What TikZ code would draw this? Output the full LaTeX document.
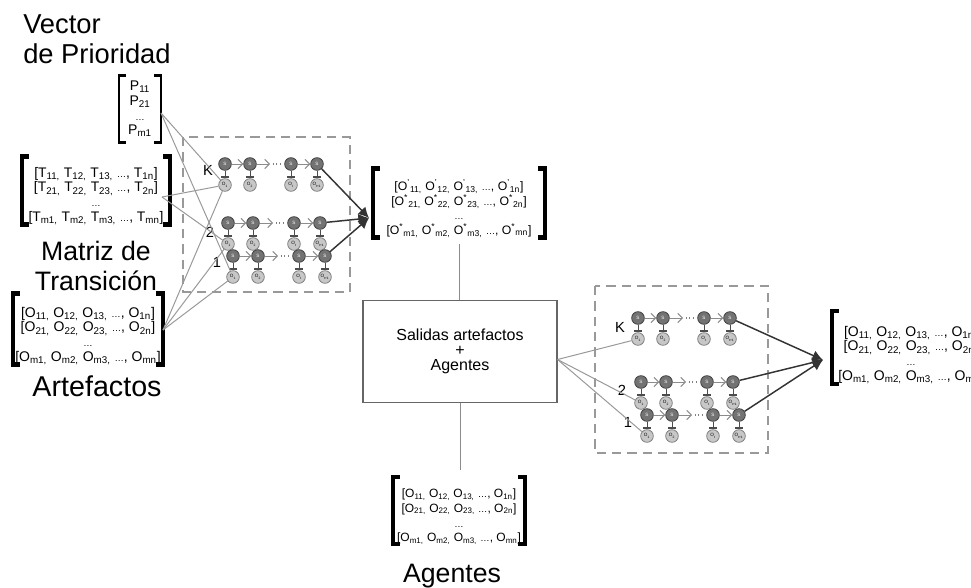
\documentclass[tikz,border=0pt]{standalone}
\usepackage{fontspec}
\setmainfont{Liberation Sans}
\usetikzlibrary{arrows.meta,positioning,calc}
\newcommand{\ix}[1]{\textsubscript{#1}}
\newcommand{\dts}{{\scriptsize\ldots},}
\newcommand{\mrow}[2]{{[}#1\ix{#21,} #1\ix{#22,} #1\ix{#23,} \dts{} #1\ix{#2n}]}
\newcommand{\mtx}[4]{\parbox[c][#2][#3]{#1}{\centering #4}}
\newcommand{\mbrackets}[2]{%
  \draw[line width=#2] ([xshift=5pt]#1.north west) -- (#1.north west) -- (#1.south west) -- ([xshift=5pt]#1.south west);
  \draw[line width=#2] ([xshift=-5pt]#1.north east) -- (#1.north east) -- (#1.south east) -- ([xshift=-5pt]#1.south east);}
\newcommand{\hmmrow}[3]{%
  \foreach \i/\dx/\ol in {1/0/1,2/25/2,3/66/t,4/92/t+1}{
    \node[st] (#1s\i) at (#2+\dx,#3) {S};
    \node[ob] (#1o\i) at (#2+\dx,#3+21) {O\ix{\ol}};
    \draw[emit] (#1s\i) -- (#1o\i);
  }
  \draw[trans] (#1s1) -- (#1s2);
  \draw[trans] (#1s2) -- ++(20,0) coordinate (#1m);
  \draw[dotline] ([xshift=2pt]#1m) -- ([xshift=-2pt]#1s3.west);
  \draw[trans] (#1s3) -- (#1s4);
}
\tikzset{
  title/.style={font=\fontsize{20}{22.5}\selectfont,align=center,inner sep=0pt},
  mat/.style={inner sep=0pt,outer sep=0pt,font=\fontsize{10}{11}\selectfont},
  salbox/.style={draw=black!60,line width=0.8pt,align=center,font=\fontsize{12}{11.5}\selectfont,minimum width=145.5pt,minimum height=77pt},
  st/.style={circle,draw=black!75,fill=black!55,line width=0.6pt,minimum size=9.5pt,inner sep=0pt,font=\fontsize{3.5}{4}\selectfont,text=white},
  ob/.style={circle,draw=black!50,fill=black!22,line width=0.6pt,minimum size=9.5pt,inner sep=0pt,font=\fontsize{3.5}{4}\selectfont},
  trans/.style={draw=black!45,line width=0.7pt,-{Straight Barb[length=3.5pt,width=7pt]}},
  emit/.style={draw=black!70,line width=0.6pt,-{Bar[width=6pt,line width=1.6pt]}},
  dotline/.style={draw=black!50,line width=0.8pt,dotted},
  feed/.style={draw=black!40,line width=0.75pt},
  outl/.style={draw=black!80,line width=1.1pt,-{Latex[length=8pt,width=8pt]}},
  link/.style={draw=black!45,line width=0.75pt},
  hmmbox/.style={draw=black!40,line width=1.4pt,dash pattern=on 7pt off 4.5pt},
  lbl/.style={font=\fontsize{11}{12}\selectfont,inner sep=0pt},
}
\begin{document}
\begin{tikzpicture}[x=0.75pt,y=-0.75pt]
\useasboundingbox (0,0) rectangle (971,588);
\clip (0,0) rectangle (971,588);
% titles
\node[title,anchor=north west,align=left,font=\fontsize{20.5}{22.5}\selectfont] (tvec) at (23,14) {Vector\\de Prioridad};
\node[title,anchor=north] (tmat) at (96,241) {Matriz de\\Transición};
\node[title,anchor=north,font=\fontsize{21.5}{23}\selectfont] (tart) at (97,375) {Artefactos};
\node[title,anchor=north] (tage) at (452,564) {Agentes};
% input matrices
\node[mat,font=\fontsize{10.5}{11}\selectfont] (pvec) at (140,109) {\mtx{31.5pt}{50pt}{c}{P\ix{11}\\P\ix{21}\\{\scriptsize\ldots}\\P\ix{m1}}};
\node[mat,font=\fontsize{10.4}{11}\selectfont] (tmx) at (96,190.5) {\mtx{111pt}{48.75pt}{b}{\mrow{T}{1}\\\mrow{T}{2}\\{\scriptsize\ldots}\\\mrow{T}{m}}};
\node[mat,font=\fontsize{10.5}{11}\selectfont] (amx) at (88,329) {\mtx{112.5pt}{51pt}{b}{\mrow{O}{1}\\\mrow{O}{2}\\{\scriptsize\ldots}\\\mrow{O}{m}}};
\mbrackets{pvec}{2pt}
\mbrackets{tmx}{3.6pt}
\mbrackets{amx}{3.6pt}
\coordinate (pin) at (161,113);
\coordinate (tin) at (162,197);
\coordinate (ain) at (163,330);
% first group of models
\draw[hmmbox] (183,137) rectangle (350,292);
\hmmrow{lk}{225}{164}
\hmmrow{l2}{228}{223}
\hmmrow{l1}{233}{256}
\node[lbl] (lkk) at (208,170) {K};
\node[lbl] (lk2) at (210,232) {2};
\node[lbl] (lk1) at (217,262) {1};
\draw[feed] (pin) -- (lko1);
\draw[feed] (pin) -- (l1o1);
\draw[feed] (tin) -- (lko1);
\draw[feed] (tin) -- (l2o1);
\draw[feed] (ain) -- (lko1);
\draw[feed] (ain) -- (l2o1);
\draw[feed] (ain) -- (l1o1);
% outputs
\node[mat,font=\fontsize{9.2}{11}\selectfont] (ostar) at (459,203) {\mtx{129pt}{49.5pt}{b}{\mrow{O\textsuperscript{'}}{1}\\\mrow{O\textsuperscript{*}}{2}\\{\scriptsize\ldots}\\\mrow{O\textsuperscript{*}}{m}}};
\mbrackets{ostar}{3.6pt}
\coordinate (ltip) at (369,218);
\draw[outl] (lks4) -- (ltip);
\draw[outl] (l2s4) -- (ltip);
\draw[outl] (l1s4) -- (ltip);
\node[salbox] (sal) at (460,351.5) {Salidas artefactos\\+\\Agentes};
\draw[link,shorten <=5pt] (ostar.south) -- (ostar.south |- sal.north);
\node[mat,font=\fontsize{9}{11}\selectfont] (agm) at (459,510.5) {\mtx{99pt}{48.75pt}{b}{\mrow{O}{1}\\\mrow{O}{2}\\{\scriptsize\ldots}\\\mrow{O}{m}}};
\mbrackets{agm}{3pt}
\draw[link,shorten >=5pt] (sal.south) -- (sal.south |- agm.north);
% second group of models
\draw[hmmbox] (595,286) rectangle (768,453);
\hmmrow{rk}{638}{318}
\hmmrow{r2}{641}{382}
\hmmrow{r1}{647}{415}
\node[lbl] (rkk) at (620,327) {K};
\node[lbl] (rk2) at (622,390) {2};
\node[lbl] (rk1) at (628,422) {1};
\draw[feed] ([yshift=-6pt]sal.east) -- (rko1);
\draw[feed] ([yshift=-6pt]sal.east) -- (r2o1);
\draw[feed] ([yshift=-6pt]sal.east) -- (r1o1);
\node[mat,font=\fontsize{10.5}{11}\selectfont] (rmx) at (911,347.5) {\mtx{118.5pt}{51.75pt}{b}{\mrow{O}{1}\\\mrow{O}{2}\\{\scriptsize\ldots}\\\mrow{O}{m}}};
\mbrackets{rmx}{3pt}
\coordinate (rtip) at (823,360);
\draw[outl] (rks4) -- (rtip);
\draw[outl] (r2s4) -- (rtip);
\draw[outl] (r1s4) -- (rtip);
\end{tikzpicture}
\end{document}
